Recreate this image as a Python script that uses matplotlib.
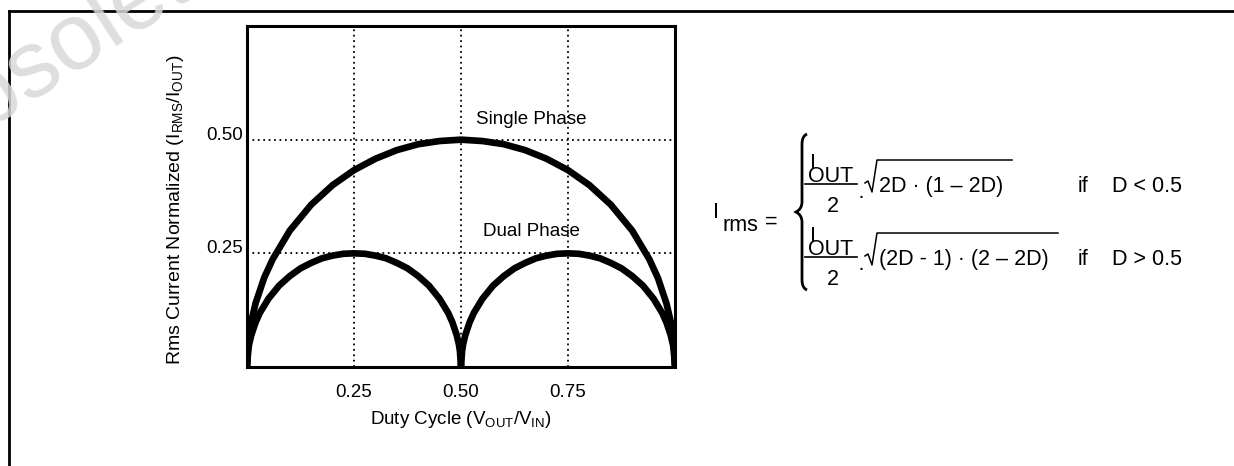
import matplotlib
matplotlib.use("Agg")
import matplotlib.pyplot as plt
from matplotlib.lines import Line2D
from matplotlib.path import Path
from matplotlib.patches import PathPatch

plt.rcParams['font.family'] = ['Liberation Sans', 'DejaVu Sans']
plt.rcParams['mathtext.fontset'] = 'custom'
plt.rcParams['mathtext.rm'] = 'Liberation Sans'

# -----------------------------------------------------
#  Data
# -----------------------------------------------------
duty_single = [0.0, 0.005, 0.01, 0.02, 0.04, 0.06, 0.1, 0.15, 0.2, 0.25, 0.3, 0.35, 0.4, 0.45, 0.5,
               0.55, 0.6, 0.65, 0.7, 0.75, 0.8, 0.85, 0.9, 0.94, 0.96, 0.98, 0.99, 0.995, 1.0]
rms_single = [0.0, 0.071, 0.100, 0.140, 0.196, 0.237, 0.300, 0.357, 0.400, 0.433, 0.458, 0.477, 0.490, 0.497, 0.500,
              0.497, 0.490, 0.477, 0.458, 0.433, 0.400, 0.357, 0.300, 0.237, 0.196, 0.140, 0.100, 0.071, 0.0]

duty_dual = [0.0, 0.0025, 0.005, 0.01, 0.02, 0.03, 0.05, 0.075, 0.1, 0.125, 0.15, 0.175, 0.2, 0.225, 0.25,
             0.275, 0.3, 0.325, 0.35, 0.375, 0.4, 0.425, 0.45, 0.47, 0.48, 0.49, 0.495, 0.4975, 0.5,
             0.5025, 0.505, 0.51, 0.52, 0.53, 0.55, 0.575, 0.6, 0.625, 0.65, 0.675, 0.7, 0.725, 0.75,
             0.775, 0.8, 0.825, 0.85, 0.875, 0.9, 0.925, 0.95, 0.97, 0.98, 0.99, 0.995, 0.9975, 1.0]
rms_dual = [0.0, 0.035, 0.050, 0.070, 0.098, 0.119, 0.150, 0.179, 0.200, 0.217, 0.229, 0.239, 0.245, 0.249, 0.250,
            0.249, 0.245, 0.239, 0.229, 0.217, 0.200, 0.179, 0.150, 0.119, 0.098, 0.070, 0.050, 0.035, 0.0,
            0.035, 0.050, 0.070, 0.098, 0.119, 0.150, 0.179, 0.200, 0.217, 0.229, 0.239, 0.245, 0.249, 0.250,
            0.249, 0.245, 0.239, 0.229, 0.217, 0.200, 0.179, 0.150, 0.119, 0.098, 0.070, 0.050, 0.035, 0.0]

x_ticks = [0.25, 0.50, 0.75]
x_tick_labels = ["0.25", "0.50", "0.75"]
y_ticks = [0.25, 0.50]
y_tick_labels = ["0.25", "0.50"]

W, H = 1234, 466


def px(x, y):
    # pixel position (from top-left) -> figure fraction
    return x / W, 1 - y / H


# -----------------------------------------------------
#  Figure and axes
# -----------------------------------------------------
fig = plt.figure(figsize=(W / 100, H / 100), dpi=100)
ax = fig.add_axes([247 / W, (H - 367) / H, 428 / W, 341 / H])

ax.plot(duty_single, rms_single, color="black", lw=4.8, solid_joinstyle="round")
ax.plot(duty_dual, rms_dual, color="black", lw=4.8, solid_joinstyle="round")

ax.set_xlim(0, 1)
ax.set_ylim(0, 0.75)
ax.set_xticks(x_ticks)
ax.set_xticklabels(x_tick_labels)
ax.set_yticks(y_ticks)
ax.set_yticklabels(y_tick_labels)
ax.tick_params(length=0, labelsize=13.5)
ax.tick_params(axis="x", pad=12)
ax.tick_params(axis="y", pad=3)
for lab in ax.get_yticklabels():
    lab.set_va("baseline")
ax.grid(True, color="black", linestyle=(0, (1, 2)), lw=1.3)
for sp in ax.spines.values():
    sp.set_linewidth(2.2)

ax.set_xlabel(r"Duty Cycle (V$_\mathregular{OUT}$/V$_\mathregular{IN}$)", fontsize=13.5, labelpad=6)
fig.text(*px(175, 210), r"Rms Current Normalized (I$_\mathregular{RMS}$/I$_\mathregular{OUT}$)",
         rotation=90, ha="center", va="center", fontsize=14)

ax.text(0.663, 0.545, "Single Phase", ha="center", va="center", fontsize=13.5)
ax.text(0.664, 0.297, "Dual Phase", ha="center", va="center", fontsize=13.5)

# -----------------------------------------------------
#  Equation on the right
# -----------------------------------------------------
fs = 15.5
fig.text(*px(713, 218), "I", fontsize=fs, va="baseline")
fig.text(*px(722, 231), "rms", fontsize=fs, va="baseline")
fig.text(*px(765, 228), "=", fontsize=fs, va="baseline")

# brace
bx, top, bot, mid = 803, 134, 290, 212
verts = [px(bx + 4, top), px(bx - 1, top + 2), px(bx - 1, top + 10),
         px(bx - 1, mid - 10), px(bx - 1, mid - 3), px(bx - 7, mid),
         px(bx - 1, mid + 3), px(bx - 1, mid + 10),
         px(bx - 1, bot - 10), px(bx - 1, bot - 2), px(bx + 4, bot)]
codes = [Path.MOVETO, Path.CURVE3, Path.CURVE3,
         Path.LINETO, Path.CURVE3, Path.CURVE3,
         Path.CURVE3, Path.CURVE3,
         Path.LINETO, Path.CURVE3, Path.CURVE3]
fig.patches.append(PathPatch(Path(verts, codes), transform=fig.transFigure,
                             fill=False, lw=2.0, color="black"))

rows = [(0, "2D · (1 – 2D)", 1012, "D < 0.5"),
        (73, "(2D - 1) · (2 – 2D)", 1058, "D > 0.5")]
for dy, body, bar_end, cond in rows:
    fig.text(*px(810, 169 + dy), "I", fontsize=fs, va="baseline")
    fig.text(*px(808, 182 + dy), "OUT", fontsize=fs, va="baseline")
    fig.lines.append(Line2D([805 / W, 857 / W], [1 - (184 + dy) / H] * 2,
                            transform=fig.transFigure, color="black", lw=1.2))
    fig.text(*px(833, 212 + dy), "2", fontsize=fs, ha="center", va="baseline")
    fig.text(*px(861, 197 + dy), "·", fontsize=fs, ha="center", va="center")
    # radical sign drawn as a stroke, with its bar
    rad = [px(865, 183 + dy), px(868, 181 + dy), px(872, 192 + dy),
           px(877, 160 + dy), px(bar_end, 160 + dy)]
    fig.lines.append(Line2D([p[0] for p in rad], [p[1] for p in rad],
                            transform=fig.transFigure, color="black", lw=1.1))
    fig.text(*px(879, 192 + dy), body, fontsize=fs, va="baseline")
    fig.text(*px(1078, 192 + dy), "if", fontsize=fs, va="baseline")
    fig.text(*px(1112, 192 + dy), cond, fontsize=fs, va="baseline")

# -----------------------------------------------------
#  Page frame and watermark
# -----------------------------------------------------
fig.lines.append(Line2D([8.5 / W, 1.0], [1 - 10.5 / H] * 2, transform=fig.transFigure,
                        color="black", lw=2))
fig.lines.append(Line2D([8.5 / W] * 2, [0.0, 1 - 10.5 / H], transform=fig.transFigure,
                        color="black", lw=2))
fig.text(*px(-78, 170), "Obsolete", rotation=33, rotation_mode="anchor", ha="left",
         va="baseline", fontsize=68, color="#d8d8d8", alpha=0.85, zorder=10)

fig.savefig("out.png", dpi=100)
